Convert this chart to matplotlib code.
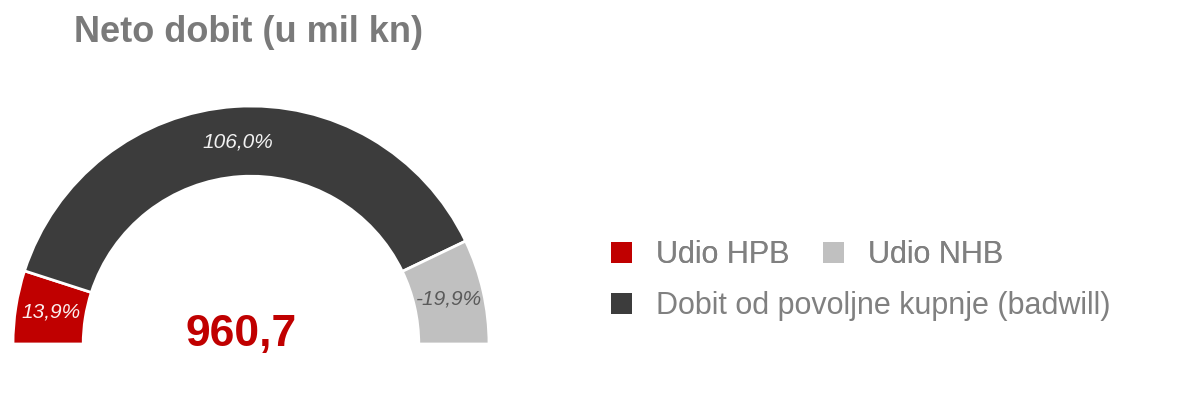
import matplotlib.pyplot as plt
from matplotlib.patches import Patch
import numpy as np

# udjeli u neto dobiti (%)
kategorije = ['Udio HPB', 'Dobit od povoljne kupnje (badwill)', 'Udio NHB']
udjeli = [13.9, 106.0, 19.9]
oznake = ['13,9%', '106,0%', '-19,9%']
neto_dobit = '960,7'

boje = ['#c00000', '#3c3c3c', '#c0c0c0']
boje_teksta = ['#fbeeee', '#f2f2f2', '#5a5a5a']

plt.rcParams['font.family'] = ['Liberation Sans', 'DejaVu Sans']

W, H = 1194, 405
fig = plt.figure(figsize=(W / 100, H / 100), dpi=100)
fig.patch.set_facecolor('white')

# polukrug: sredina (251, 344) px, vanjski radijus 238 px
cx, cy, r = 251, 344, 238
ax = fig.add_axes([(cx - r) / W, (H - cy - r) / H, 2 * r / W, 2 * r / H])

sirina = 0.295
vrijednosti = udjeli + [sum(udjeli)]  # skriveni donji dio kruga
wedges, _ = ax.pie(vrijednosti, colors=boje + ['none'], startangle=180, counterclock=False,
                   radius=1, wedgeprops=dict(width=sirina, edgecolor='white', linewidth=2))
wedges[-1].set_edgecolor('none')
# pie postavlja svoje granice, pa ih vracamo na radijus
ax.set_xlim(-1, 1)
ax.set_ylim(-1, 1)
ax.set_aspect('equal')
ax.axis('off')

# oznake postotaka na sredini svakog segmenta
r_mid = 1 - sirina / 2
for w, txt, c in zip(wedges[:-1], oznake, boje_teksta):
    kut = np.deg2rad((w.theta1 + w.theta2) / 2)
    ax.text(r_mid * np.cos(kut), r_mid * np.sin(kut), txt, ha='center', va='center',
            fontsize=15, style='italic', color=c)

ax.text(-0.04, 0.04, neto_dobit, ha='center', va='center', fontsize=32,
        fontweight='bold', color='#c00000')

fig.text(248 / W, 1 - 32 / H, 'Neto dobit (u mil kn)', ha='center', va='center',
         fontsize=26, fontweight='bold', color='#7a7a7a')

# legenda u dva reda
leg_kw = dict(frameon=False, fontsize=22, handlelength=0.68, handleheight=0.68,
              handletextpad=0.8, columnspacing=1.1, borderpad=0, borderaxespad=0,
              labelcolor='#808080', loc='center left')
h = [Patch(facecolor=b, edgecolor='none') for b in boje]
leg1 = fig.legend([h[0], h[2]], [kategorije[0], kategorije[2]], ncol=2,
                  bbox_to_anchor=(611 / W, 1 - 255 / H), **leg_kw)
fig.add_artist(leg1)
fig.legend([h[1]], [kategorije[1]], bbox_to_anchor=(611 / W, 1 - 306 / H), **leg_kw)

fig.savefig('out.png', dpi=100, facecolor='white')
